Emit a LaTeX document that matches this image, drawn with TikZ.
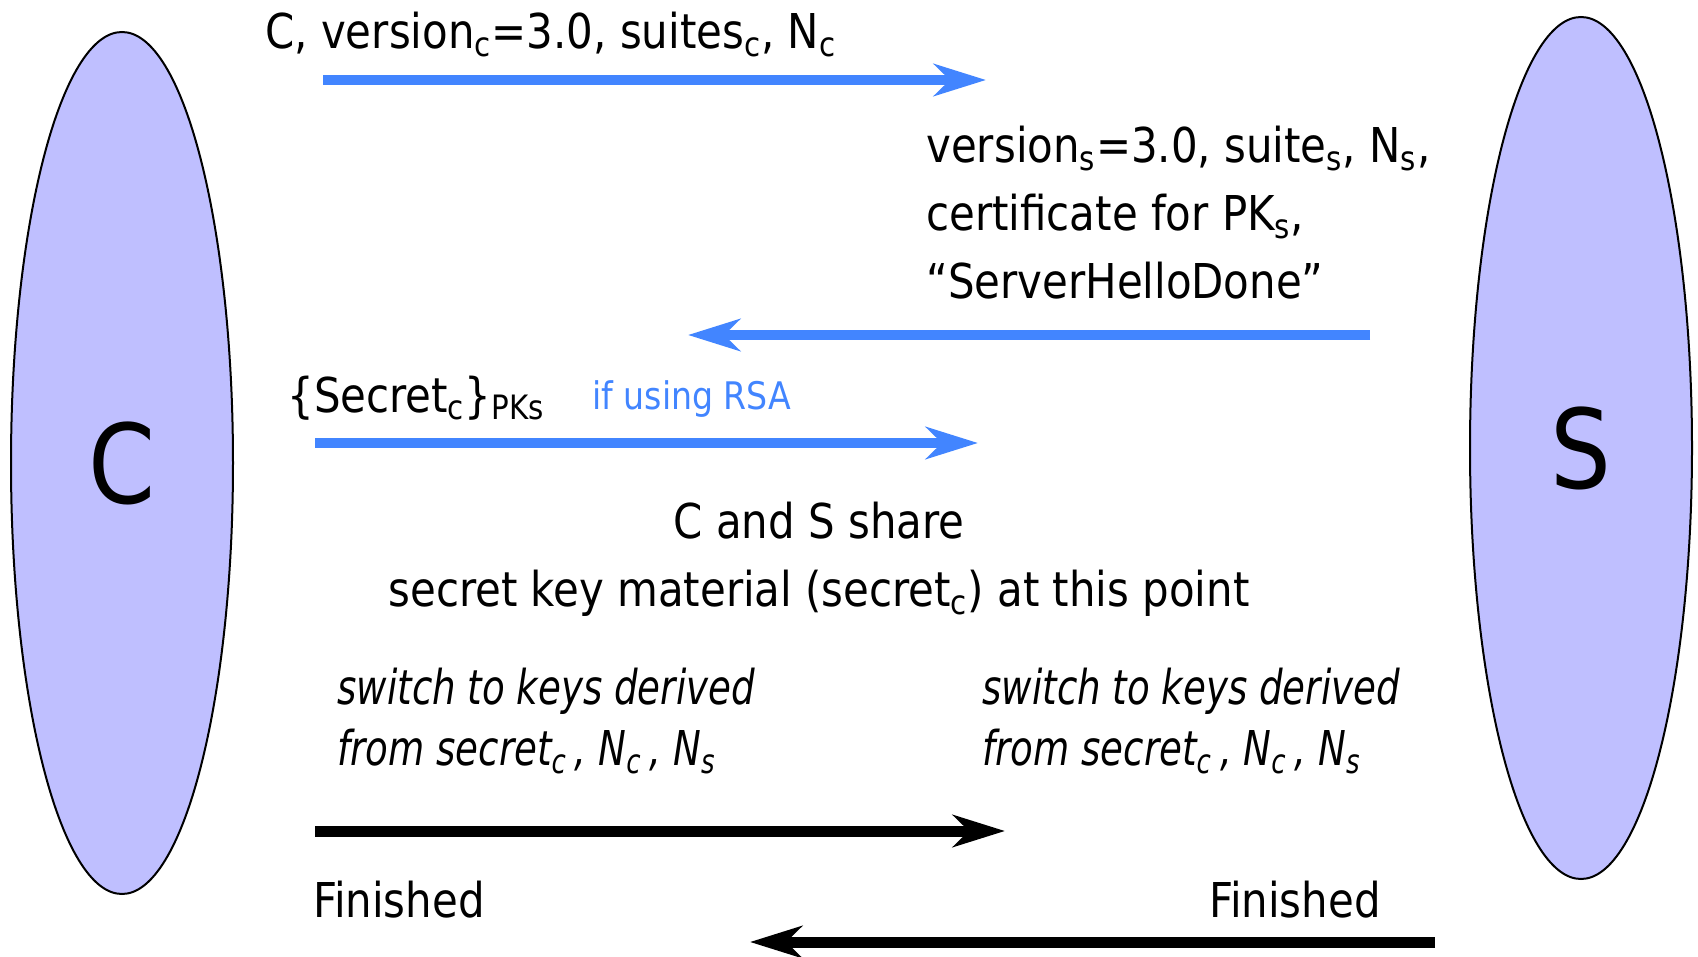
\documentclass[tikz,border=0pt]{standalone}
\usepackage{fontspec}
\setmainfont{DejaVu Sans Condensed}[FakeStretch=0.97,ItalicFeatures={FakeStretch=0.86}]
\usetikzlibrary{arrows.meta,shapes.geometric}
\definecolor{msgblue}{RGB}{66,133,255}
\definecolor{partyfill}{RGB}{191,191,255}
\newcommand{\subtxt}[1]{\textsubscript{#1}}
\tikzset{
  party/.style={draw,line width=1pt,fill=partyfill,ellipse,inner sep=0pt,
    minimum width=111pt,minimum height=431pt,font=\fontsize{55}{60}\selectfont},
  lbl/.style={anchor=base west,inner sep=0pt,font=\fontsize{24}{34}\selectfont},
  bluemsg/.style={draw=msgblue,line width=5pt,-{Stealth[length=26pt,width=16pt,inset=8pt]}},
  blackmsg/.style={draw=black,line width=5.5pt,-{Stealth[length=26pt,width=16pt,inset=8pt]}}
}
\begin{document}
\begin{tikzpicture}[x=0.5pt,y=-0.5pt]
\useasboundingbox (0,0) rectangle (1698,957);
\node[party] (client) at (122,463) {C};
\node[party] (server) at (1581,448) {S};
\coordinate (m1s) at (323,80);
\coordinate (m1e) at (986,80);
\coordinate (m2s) at (1370,335);
\coordinate (m2e) at (688,335);
\coordinate (m3s) at (315,443);
\coordinate (m3e) at (978,443);
\coordinate (m4s) at (315,831);
\coordinate (m4e) at (1005,831);
\coordinate (m5s) at (1435,942);
\coordinate (m5e) at (750,942);
\draw[bluemsg] (m1s)--(m1e);
\draw[bluemsg] (m2s)--(m2e);
\draw[bluemsg] (m3s)--(m3e);
\draw[blackmsg] (m4s)--(m4e);
\draw[blackmsg] (m5s)--(m5e);
\node[lbl] (hello) at (265,49) {C, version\subtxt{c}=3.0, suites\subtxt{c}, N\subtxt{c}};
\node[lbl,anchor=north west,align=left] (shello) at (926,126)
  {version\subtxt{s}=3.0, suite\subtxt{s}, N\subtxt{s},\\certificate for PK\subtxt{s},\\“ServerHelloDone”};
\node[lbl] (secret) at (287,412) {\{Secret\subtxt{c}\}\subtxt{PKs}};
\node[lbl,text=msgblue,font=\fontsize{19}{24}\selectfont] (rsa) at (592,409) {if using RSA};
\node[lbl,anchor=north,align=center] (share) at (819,502)
  {C and S share\\secret key material (secret\subtxt{c}) at this point};
\node[lbl,anchor=north west,align=left,font=\fontsize{24}{30.5}\itshape\selectfont] (cswitch) at (337,668)
  {switch to keys derived\\from secret\subtxt{c}\,, N\subtxt{c}\,, N\subtxt{s}};
\node[lbl,anchor=north west,align=left,font=\fontsize{24}{30.5}\itshape\selectfont] (sswitch) at (982,668)
  {switch to keys derived\\from secret\subtxt{c}\,, N\subtxt{c}\,, N\subtxt{s}};
\node[lbl] (cfin) at (313,917) {Finished};
\node[lbl,anchor=base east] (sfin) at (1381,917) {Finished};
\end{tikzpicture}
\end{document}
